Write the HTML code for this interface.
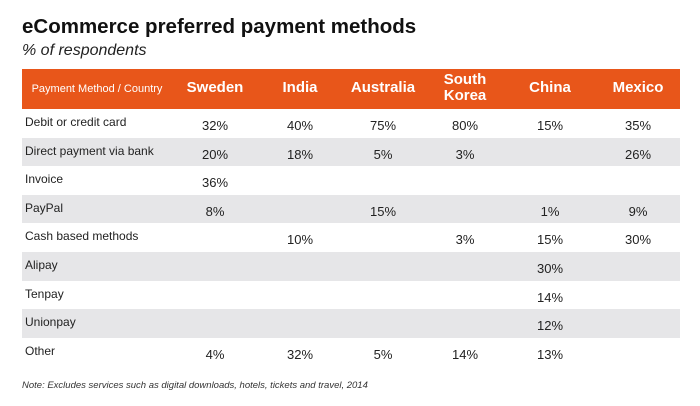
<!DOCTYPE html>
<html><head><meta charset="utf-8"><style>
body{margin:0;width:700px;height:406px;background:#fff;font-family:"Liberation Sans",sans-serif;position:relative;overflow:hidden;color:#222}
.t{position:absolute;left:22px;top:15px;font-size:20.5px;font-weight:bold;color:#111}
.s{position:absolute;left:22px;top:42px;font-size:16px;font-style:italic;color:#222}
.n{position:absolute;left:22px;top:380px;font-size:9.5px;font-style:italic;color:#333}
.hd{position:absolute;left:22px;top:69px;width:658px;height:40px;background:#e8561a}
.r{position:absolute;left:22px;width:658px;height:28.6px}
.c{position:absolute;transform:translateX(-50%);white-space:nowrap}
</style></head><body>
<div class="t">eCommerce preferred payment methods</div>
<div class="s">% of respondents</div>
<div class="hd"></div>
<div id="tbl"></div>
<div class="n">Note: Excludes services such as digital downloads, hotels, tickets and travel, 2014</div>
<script>
const countries=["Sweden","India","Australia","South<br>Korea","China","Mexico"];
const methods=["Debit or credit card","Direct payment via bank","Invoice","PayPal","Cash based methods","Alipay","Tenpay","Unionpay","Other"];
const sweden=[32,20,36,8,null,null,null,null,4];
const india=[40,18,null,null,10,null,null,null,32];
const australia=[75,5,null,15,null,null,null,null,5];
const southKorea=[80,3,null,null,3,null,null,null,14];
const china=[15,null,null,1,15,30,14,12,13];
const mexico=[35,26,null,9,30,null,null,null,null];
const series=[sweden,india,australia,southKorea,china,mexico];
const colX=[215,300,383,465,550,638];
const top0=109,rh=28.6;
const body=document.body;
const h=document.createElement('div');
h.className='c';h.style.left='97px';h.style.top='83px';h.style.fontSize='11px';h.style.color='#fff';h.textContent='Payment Method / Country';


body.appendChild(h);
countries.forEach((c,i)=>{
 const d=document.createElement('div');
 d.className='c';d.style.left=colX[i]+'px';
 const two=c.includes('<br>');
 d.style.top=(two?72:80)+'px';d.style.fontSize='15px';d.style.fontWeight='bold';d.style.color='#fff';d.style.textAlign='center';d.style.lineHeight='16px';
 d.innerHTML=c;
 
 
 body.appendChild(d);
});
methods.forEach((m,r)=>{
 const y=top0+r*rh;
 const row=document.createElement('div');
 row.className='r';row.style.top=y+'px';row.style.background=r%2?'#e6e6e8':'#fff';
 
 
 body.appendChild(row);
 const l=document.createElement('div');
 l.style.position='absolute';l.style.left='25px';l.style.top=(y+6)+'px';l.style.fontSize='12px';l.textContent=m;
 
 
 body.appendChild(l);
 series.forEach((s,i)=>{
  if(s[r]==null)return;
  const c=document.createElement('div');
  c.className='c';c.style.left=colX[i]+'px';c.style.top=(y+9)+'px';c.style.fontSize='13px';c.textContent=s[r]+'%';
  
  
  body.appendChild(c);
 });
});
</script>
</body></html>
